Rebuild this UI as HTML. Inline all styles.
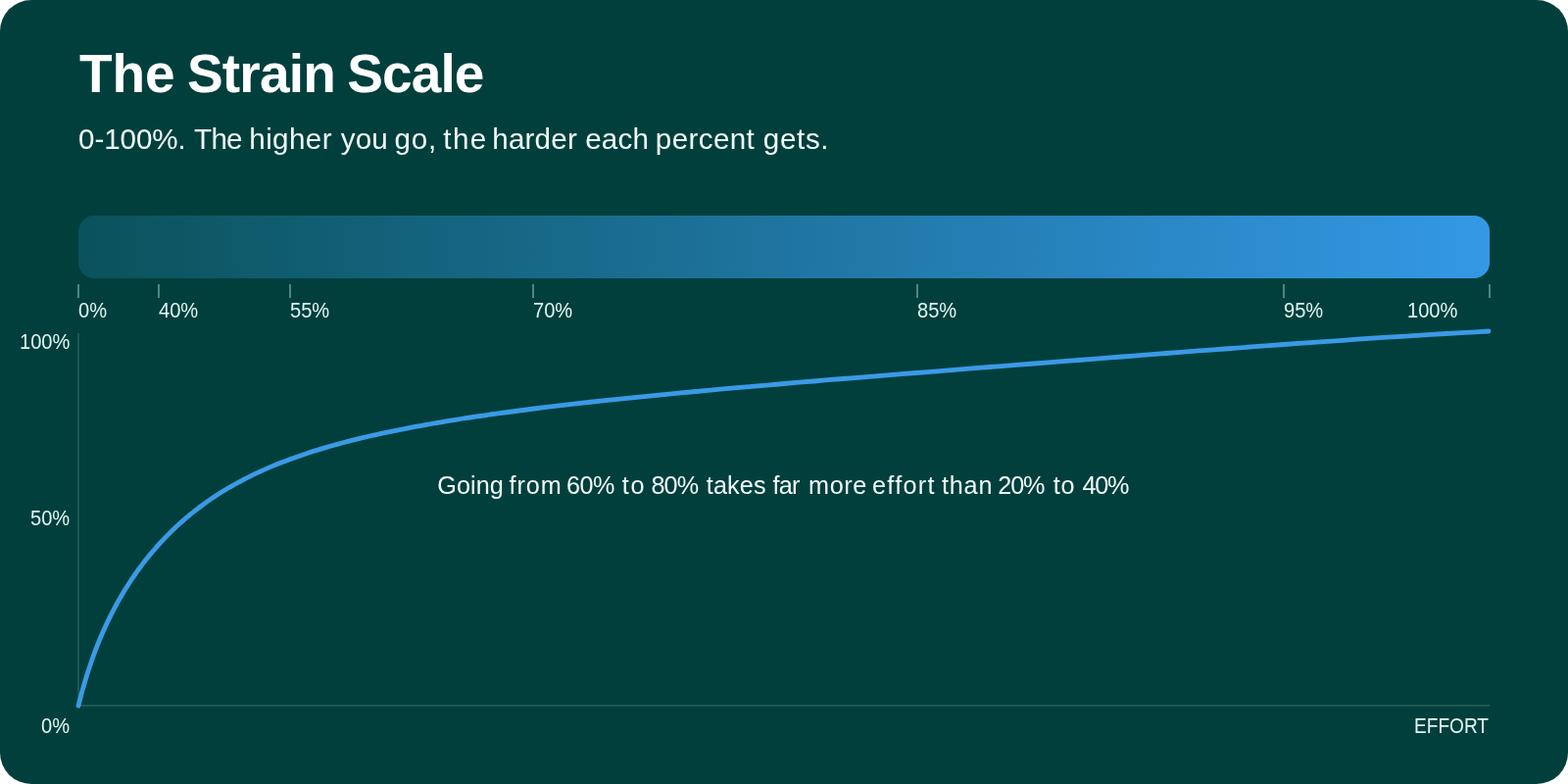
<!DOCTYPE html>
<html lang="en">
<head>
<meta charset="utf-8">
<title>The Strain Scale</title>
<style>
html,body{margin:0;padding:0;background:#fff}
body{width:1600px;height:800px;overflow:hidden;font-family:"Liberation Sans",sans-serif}
.card{position:relative;width:1600px;height:800px;background:#013f3c;border-radius:32px;overflow:hidden}
.t{position:absolute;margin:0;padding:0;font-weight:400;line-height:1;white-space:nowrap;color:#fff;transform-origin:0 0}
.title{font-weight:700}
.sub,.ann{color:#f0fbfa}
.lab{color:#e0f7f4}
.bar{position:absolute;left:80px;top:220px;width:1440px;height:64px;border-radius:16px;background:linear-gradient(90deg,#0a525b 0%,#3498e6 100%)}
.tick{position:absolute;top:290px;width:2px;height:14px;background:#4c8781}
.ax{position:absolute;background:#1e5753}
svg{position:absolute;left:0;top:0}
</style>
</head>
<body>
<main class="card">
<h1 class="t title" style="left:80.95px;top:48px;font-size:55px"><span style="letter-spacing:-0.08px;word-spacing:-2.80px">The </span><span style="letter-spacing:-0.78px;word-spacing:-2.25px">Strain </span><span style="letter-spacing:-0.94px">Scale</span></h1>
<p class="t sub" style="left:80.00px;top:127px;font-size:29.6px"><span style="letter-spacing:-0.08px;word-spacing:0.25px">0-100%. </span><span style="letter-spacing:-0.75px">The </span><span style="letter-spacing:0.40px;word-spacing:0.25px">higher </span><span style="letter-spacing:0.12px;word-spacing:-1.75px">you </span><span style="letter-spacing:0.75px;word-spacing:-2.60px">go, </span><span style="letter-spacing:1.40px;word-spacing:-5.00px">the </span><span style="letter-spacing:0.20px;word-spacing:-0.25px">harder </span><span style="letter-spacing:0.25px;word-spacing:-2.00px">each </span><span style="letter-spacing:0.38px">percent </span><span style="letter-spacing:0.66px">gets.</span></p>
<div class="bar"></div>
<div class="tick" style="left:79px"></div>
<div class="tick" style="left:161px"></div>
<div class="tick" style="left:295px"></div>
<div class="tick" style="left:543px"></div>
<div class="tick" style="left:935px"></div>
<div class="tick" style="left:1309px"></div>
<div class="tick" style="left:1519px"></div>
<div class="t lab" style="left:79.98px;top:307px;font-size:21.5px;transform:scaleX(0.935)">0%</div>
<div class="t lab" style="left:162.33px;top:307px;font-size:21.5px;transform:scaleX(0.935)">40%</div>
<div class="t lab" style="left:296.08px;top:307px;font-size:21.5px;transform:scaleX(0.935)">55%</div>
<div class="t lab" style="left:543.55px;top:307px;font-size:21.5px;transform:scaleX(0.935)">70%</div>
<div class="t lab" style="left:935.78px;top:307px;font-size:21.5px;transform:scaleX(0.935)">85%</div>
<div class="t lab" style="left:1309.66px;top:307px;font-size:21.5px;transform:scaleX(0.935)">95%</div>
<div class="t lab" style="left:1436.08px;top:307px;font-size:21.5px;transform:scaleX(0.935)">100%</div>
<div class="ax" style="left:79px;top:340px;width:2px;height:381px"></div>
<div class="ax" style="left:79px;top:719px;width:1441px;height:2px"></div>
<div class="t lab" style="left:20.13px;top:339px;font-size:21.5px;transform:scaleX(0.935)">100%</div>
<div class="t lab" style="left:31.35px;top:519px;font-size:21.5px;transform:scaleX(0.935)">50%</div>
<div class="t lab" style="left:42.45px;top:731px;font-size:21.5px;transform:scaleX(0.935)">0%</div>
<div class="t lab" style="left:1443.16px;top:731px;font-size:21.5px;transform:scaleX(0.888)">EFFORT</div>
<svg width="1600" height="800" viewBox="0 0 1600 800"><path d="M80 720.2 L81 716.2 L82 712.3 L83 708.5 L84 704.9 L85 701.3 L86 697.8 L87 694.4 L88 691.1 L89 687.9 L90 684.7 L91 681.7 L92 678.7 L93 675.7 L94 672.9 L95 670.1 L96 667.3 L97 664.6 L98 662.0 L99 659.4 L100 656.9 L101 654.4 L102 652.0 L103 649.6 L104 647.3 L105 645.0 L106 642.7 L107 640.5 L108 638.3 L109 636.2 L110 634.1 L111 632.0 L112 629.9 L113 627.9 L114 626.0 L115 624.0 L116 622.1 L117 620.2 L118 618.3 L119 616.5 L120 614.7 L122 611.1 L124 607.7 L126 604.3 L128 601.1 L130 597.9 L132 594.8 L134 591.7 L136 588.8 L138 585.9 L140 583.0 L142 580.3 L144 577.6 L146 574.9 L148 572.3 L150 569.8 L152 567.3 L154 564.9 L156 562.5 L158 560.2 L160 557.9 L162 555.6 L164 553.4 L166 551.3 L168 549.2 L170 547.1 L172 545.1 L174 543.1 L176 541.1 L178 539.2 L180 537.3 L182 535.5 L184 533.7 L186 531.9 L188 530.2 L190 528.4 L192 526.8 L194 525.1 L196 523.5 L198 521.9 L200 520.3 L205 516.5 L210 512.9 L215 509.4 L220 506.0 L225 502.8 L230 499.8 L235 496.8 L240 494.0 L245 491.3 L250 488.6 L255 486.1 L260 483.7 L265 481.4 L270 479.1 L275 476.9 L280 474.8 L285 472.8 L290 470.9 L295 469.0 L300 467.2 L305 465.4 L310 463.7 L315 462.0 L320 460.4 L325 458.9 L330 457.4 L335 455.9 L340 454.5 L345 453.1 L350 451.8 L355 450.4 L360 449.2 L365 447.9 L370 446.7 L375 445.5 L380 444.4 L385 443.3 L390 442.2 L395 441.1 L400 440.1 L405 439.1 L410 438.1 L415 437.1 L420 436.1 L425 435.2 L430 434.3 L435 433.4 L440 432.5 L445 431.6 L450 430.8 L455 429.9 L460 429.1 L465 428.3 L470 427.5 L475 426.7 L480 426.0 L485 425.2 L490 424.5 L495 423.8 L500 423.0 L515 421.0 L530 419.0 L545 417.0 L560 415.2 L575 413.4 L590 411.7 L605 410.0 L620 408.4 L635 406.8 L650 405.3 L665 403.8 L680 402.3 L695 400.9 L710 399.5 L725 398.1 L740 396.7 L755 395.4 L770 394.1 L785 392.8 L800 391.5 L815 390.2 L830 389.0 L845 387.7 L860 386.5 L875 385.3 L890 384.1 L905 382.9 L920 381.7 L935 380.5 L950 379.3 L965 378.1 L980 376.9 L995 375.7 L1010 374.5 L1025 373.4 L1040 372.2 L1055 371.0 L1070 369.8 L1085 368.7 L1100 367.5 L1115 366.3 L1130 365.2 L1145 364.0 L1160 362.8 L1175 361.7 L1190 360.5 L1205 359.4 L1220 358.2 L1235 357.1 L1250 356.0 L1265 354.9 L1280 353.7 L1295 352.6 L1310 351.5 L1325 350.4 L1340 349.4 L1355 348.3 L1370 347.3 L1385 346.2 L1400 345.2 L1415 344.2 L1430 343.3 L1445 342.3 L1460 341.4 L1475 340.5 L1490 339.6 L1505 338.8 L1519 338.0" fill="none" stroke="#3b9ae6" stroke-width="4.8" stroke-linecap="round" stroke-linejoin="round"/></svg>
<p class="t ann" style="left:446.25px;top:483px;font-size:25.2px"><span style="letter-spacing:0.06px;word-spacing:-1.30px">Going </span><span style="letter-spacing:0.92px;word-spacing:-3.50px">from </span><span style="letter-spacing:-0.50px;word-spacing:1.40px">60% </span><span style="letter-spacing:1.60px;word-spacing:-3.25px">to </span><span style="letter-spacing:-0.88px;word-spacing:2.50px">80% </span><span style="letter-spacing:0.16px;word-spacing:-0.35px">takes </span><span style="letter-spacing:-0.76px;word-spacing:3.15px">far </span><span style="letter-spacing:0.58px;word-spacing:-2.45px">more </span><span style="letter-spacing:1.34px;word-spacing:-2.20px">effort </span><span style="letter-spacing:0.77px;word-spacing:-2.70px">than </span><span style="letter-spacing:-1.08px;word-spacing:3.50px">20% </span><span style="letter-spacing:0.60px;word-spacing:-0.15px">to </span><span style="letter-spacing:-1.20px">40%</span></p>
</main>
</body>
</html>
